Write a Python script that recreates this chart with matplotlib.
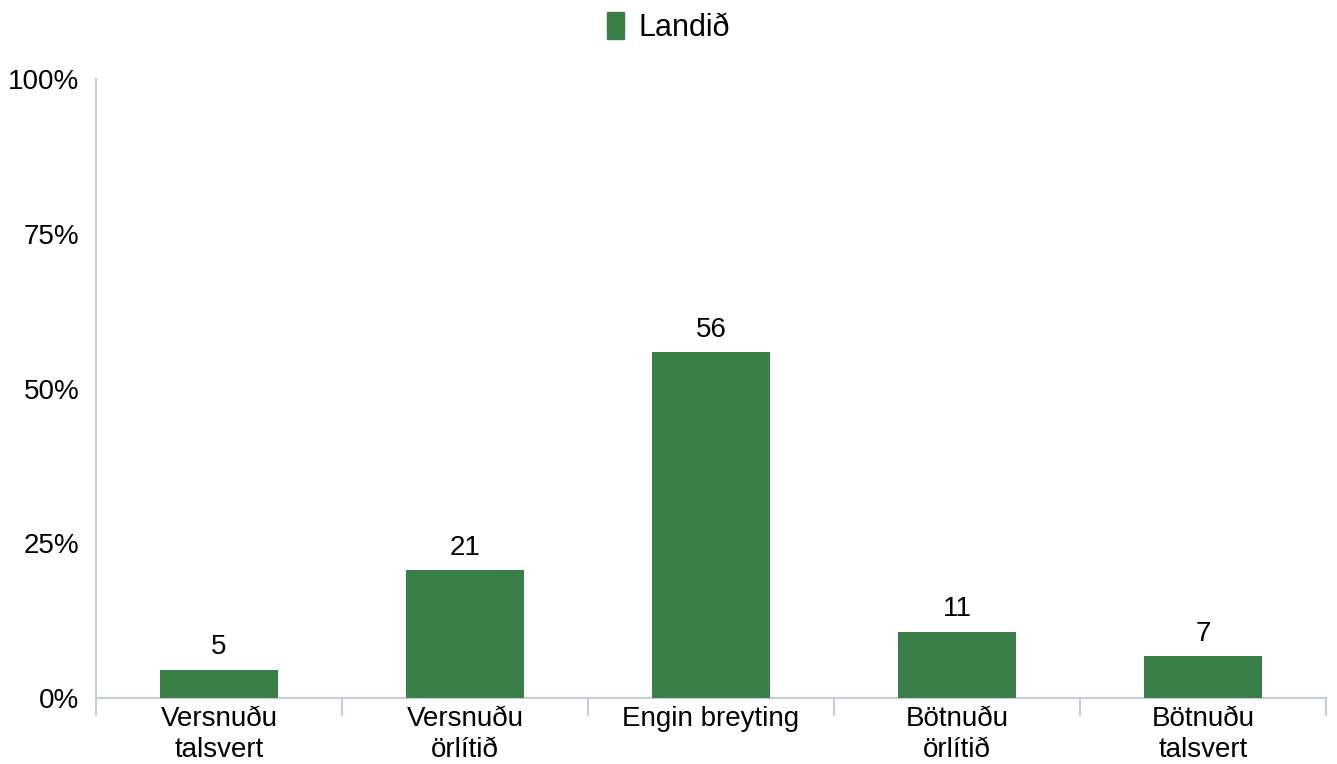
import matplotlib
matplotlib.use("Agg")
import matplotlib.pyplot as plt
from matplotlib.patches import Patch
import numpy as np

plt.rcParams['font.family'] = ['Liberation Sans', 'DejaVu Sans']

categories = ['Versnuðu\ntalsvert', 'Versnuðu\nörlítið', 'Engin breyting',
              'Bötnuðu\nörlítið', 'Bötnuðu\ntalsvert']
values = [4.6, 20.7, 55.9, 10.7, 6.8]
labels = ['5', '21', '56', '11', '7']
series_name = 'Landið'
yticks = [0, 25, 50, 75, 100]

green = '#3a7f47'
axcol = '#c3cde0'

fig = plt.figure(figsize=(13.37, 7.64), dpi=100)
ax = fig.add_axes([96/1337, 1-698/764, 1230/1337, 619/764])

x = np.arange(len(categories))
bars = ax.bar(x, values, width=0.48, color=green, zorder=3)
for b, lab in zip(bars, labels):
    ax.text(b.get_x() + b.get_width()/2, b.get_height() + 1.5, lab,
            ha='center', va='bottom', fontsize=20)

ax.set_xlim(-0.5, len(categories) - 0.5)
ax.set_ylim(0, 100)
ax.set_yticks(yticks)
ax.set_yticklabels([f'{t}%' for t in yticks], fontsize=20)
ax.tick_params(axis='y', length=0, pad=12)

ax.set_xticks(x)
ax.set_xticklabels(categories, fontsize=20, linespacing=1.25)
ax.tick_params(axis='x', length=0, pad=6)
ax.set_xticks(np.arange(-0.5, len(categories)), minor=True)
ax.tick_params(axis='x', which='minor', length=13, color=axcol, width=1.5)

for s in ['top', 'right']:
    ax.spines[s].set_visible(False)
for s in ['left', 'bottom']:
    ax.spines[s].set_color(axcol)
    ax.spines[s].set_linewidth(1.5)

fig.legend(handles=[Patch(color=green, label=series_name)], loc='upper center',
           bbox_to_anchor=(0.5, 1.02), frameon=False, fontsize=22,
           handlelength=0.55, handleheight=0.95, handletextpad=0.45)

fig.savefig('out.png', dpi=100)
